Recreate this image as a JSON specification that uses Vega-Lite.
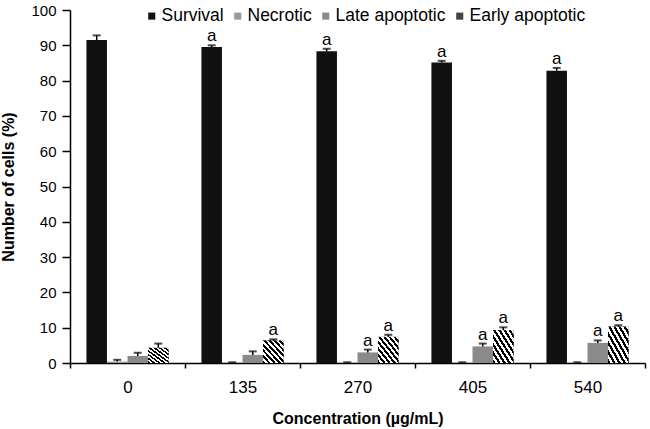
{
  "$schema": "https://vega.github.io/schema/vega-lite/v6.json",
  "width": 575,
  "height": 353,
  "autosize": "none",
  "padding": {"left": 70, "top": 10, "right": 5, "bottom": 66},
  "background": "white",
  "config": {
    "view": {"stroke": null},
    "font": "Liberation Sans",
    "axis": {"domainColor": "black", "tickColor": "black", "labelColor": "black", "titleColor": "black", "grid": false, "domainWidth": 1.5, "tickWidth": 1.5},
    "axisY": {"tickCount": 10, "labelOverlap": false, "tickSize": 8, "labelFontSize": 15, "labelPadding": 6, "titleFontSize": 16, "titleFontWeight": "bold", "titlePadding": 14}
  },
  "data": {
    "values": [
      {"conc": "0", "type": "Survival", "value": 91.5, "hi": 92.8, "sig": ""},
      {"conc": "0", "type": "Necrotic", "value": 0.4, "hi": 0.9, "sig": ""},
      {"conc": "0", "type": "Late apoptotic", "value": 2.0, "hi": 2.9, "sig": ""},
      {"conc": "0", "type": "Early apoptotic", "value": 4.3, "hi": 5.5, "sig": ""},
      {"conc": "135", "type": "Survival", "value": 89.5, "hi": 90.0, "sig": "a"},
      {"conc": "135", "type": "Necrotic", "value": 0.1, "hi": 0.2, "sig": ""},
      {"conc": "135", "type": "Late apoptotic", "value": 2.3, "hi": 3.3, "sig": ""},
      {"conc": "135", "type": "Early apoptotic", "value": 6.4, "hi": 6.7, "sig": "a"},
      {"conc": "270", "type": "Survival", "value": 88.3, "hi": 89.0, "sig": "a"},
      {"conc": "270", "type": "Necrotic", "value": 0.1, "hi": 0.2, "sig": ""},
      {"conc": "270", "type": "Late apoptotic", "value": 3.0, "hi": 3.8, "sig": "a"},
      {"conc": "270", "type": "Early apoptotic", "value": 7.4, "hi": 8.0, "sig": "a"},
      {"conc": "405", "type": "Survival", "value": 85.1, "hi": 85.6, "sig": "a"},
      {"conc": "405", "type": "Necrotic", "value": 0.1, "hi": 0.2, "sig": ""},
      {"conc": "405", "type": "Late apoptotic", "value": 4.7, "hi": 5.5, "sig": "a"},
      {"conc": "405", "type": "Early apoptotic", "value": 9.3, "hi": 10.1, "sig": "a"},
      {"conc": "540", "type": "Survival", "value": 82.8, "hi": 83.6, "sig": "a"},
      {"conc": "540", "type": "Necrotic", "value": 0.1, "hi": 0.2, "sig": ""},
      {"conc": "540", "type": "Late apoptotic", "value": 5.7, "hi": 6.4, "sig": "a"},
      {"conc": "540", "type": "Early apoptotic", "value": 10.3, "hi": 10.7, "sig": "a"}
    ]
  },
  "encoding": {
    "x": {
      "field": "conc", "type": "ordinal", "sort": ["0", "135", "270", "405", "540"],
      "scale": {"paddingInner": 0, "paddingOuter": 0},
      "axis": {"title": "Concentration (µg/mL)", "labelAngle": 0, "tickBand": "extent", "tickSize": 5, "labelFontSize": 17, "labelPadding": 11, "titleFontSize": 16, "titleFontWeight": "bold", "titlePadding": 15}
    },
    "xOffset": {
      "field": "type", "type": "nominal",
      "sort": ["Survival", "Necrotic", "Late apoptotic", "Early apoptotic"],
      "scale": {"domain": ["Survival", "Necrotic", "Late apoptotic", "Early apoptotic"], "paddingOuter": 0.8, "paddingInner": 0}
    }
  },
  "layer": [
    {
      "mark": {"type": "bar"},
      "encoding": {
        "y": {
          "field": "value", "type": "quantitative",
          "scale": {"domain": [0, 100], "nice": false},
          "axis": {"title": "Number of cells (%)"}
        },
        "color": {
          "field": "type", "type": "nominal",
          "sort": ["Survival", "Necrotic", "Late apoptotic", "Early apoptotic"],
          "scale": {"domain": ["Survival", "Necrotic", "Late apoptotic", "Early apoptotic"], "range": ["#111111", "#999999", "#8a8a8a", "#444444"]},
          "legend": {"title": null, "orient": "none", "legendX": 73, "legendY": -3, "direction": "horizontal", "columns": 4, "symbolType": "square", "symbolSize": 50, "symbolStrokeWidth": 0, "labelFontSize": 17.5, "labelOffset": 1, "columnPadding": 5, "labelColor": "black"}
        }
      }
    },
    {
      "transform": [{"filter": "datum.type === 'Early apoptotic'"}],
      "mark": {"type": "bar", "fill": {"gradient": "linear", "x1": 0, "y1": 1, "x2": 1, "y2": 0, "stops": [
        {"offset": 0, "color": "black"}, {"offset": 0.0625, "color": "black"}, {"offset": 0.0625, "color": "white"}, {"offset": 0.125, "color": "white"},
        {"offset": 0.125, "color": "black"}, {"offset": 0.1875, "color": "black"}, {"offset": 0.1875, "color": "white"}, {"offset": 0.25, "color": "white"},
        {"offset": 0.25, "color": "black"}, {"offset": 0.3125, "color": "black"}, {"offset": 0.3125, "color": "white"}, {"offset": 0.375, "color": "white"},
        {"offset": 0.375, "color": "black"}, {"offset": 0.4375, "color": "black"}, {"offset": 0.4375, "color": "white"}, {"offset": 0.5, "color": "white"},
        {"offset": 0.5, "color": "black"}, {"offset": 0.5625, "color": "black"}, {"offset": 0.5625, "color": "white"}, {"offset": 0.625, "color": "white"},
        {"offset": 0.625, "color": "black"}, {"offset": 0.6875, "color": "black"}, {"offset": 0.6875, "color": "white"}, {"offset": 0.75, "color": "white"},
        {"offset": 0.75, "color": "black"}, {"offset": 0.8125, "color": "black"}, {"offset": 0.8125, "color": "white"}, {"offset": 0.875, "color": "white"},
        {"offset": 0.875, "color": "black"}, {"offset": 0.9375, "color": "black"}, {"offset": 0.9375, "color": "white"}, {"offset": 1, "color": "white"}
      ]}},
      "encoding": {"y": {"field": "value", "type": "quantitative"}}
    },
    {
      "mark": {"type": "rule", "color": "black", "strokeWidth": 1.5},
      "encoding": {"y": {"field": "value", "type": "quantitative"}, "y2": {"field": "hi"}}
    },
    {
      "mark": {"type": "tick", "color": "black", "size": 8, "thickness": 2},
      "encoding": {"y": {"field": "hi", "type": "quantitative"}}
    },
    {
      "transform": [{"filter": "datum.sig !== ''"}],
      "mark": {"type": "text", "baseline": "alphabetic", "dy": -4, "fontSize": 17, "color": "black"},
      "encoding": {"y": {"field": "hi", "type": "quantitative"}, "text": {"field": "sig"}}
    }
  ]
}
